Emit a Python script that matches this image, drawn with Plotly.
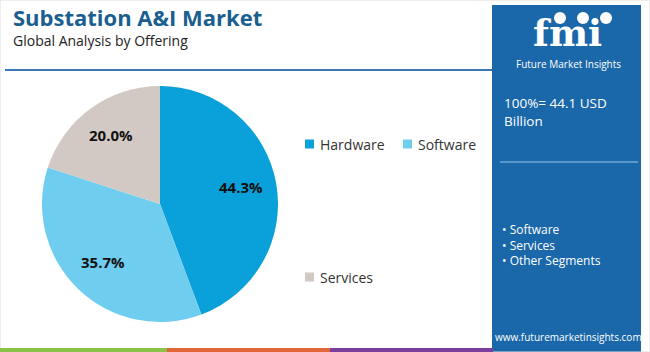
import math
import plotly.graph_objects as go

W, H = 650, 352
categories = ["Hardware", "Software", "Services"]
shares = [44.3, 35.7, 20.0]
colors = ["#0aa0d9", "#6fcdf0", "#d3c9c4"]
total_label = "100%= 44.1 USD<br>Billion"
segments = ["Software", "Services", "Other Segments"]

def px(x):
    return x / W

def py(y):
    return 1 - y / H

fig = go.Figure()
cx, cy, r = 160, 204, 118
fig.add_trace(go.Pie(
    labels=categories, values=shares, sort=False, direction="clockwise", rotation=0,
    marker=dict(colors=colors, line=dict(width=0)),
    textinfo="none",
    domain=dict(x=[px(cx - r), px(cx + r)], y=[py(cy + r), py(cy - r)]),
    showlegend=False, hoverinfo="label+percent",
))

shapes = []
ann = []

# slice labels placed at slice mid-angles (derived from data)
tot = sum(shares)
cum = 0.0
for v in shares:
    mid = (cum + v / 2) / tot * 2 * math.pi
    cum += v
    rr = 0.7 * r
    lx = cx + rr * math.sin(mid)
    ly = cy - rr * math.cos(mid) - 2
    ann.append(dict(text="<b>%.1f%%</b>" % v, x=px(lx), y=py(ly), xanchor="center", yanchor="middle",
                    showarrow=False, font=dict(family="Open Sans", size=15, color="#111111", weight=800)))

# border
shapes.append(dict(type="rect", xref="paper", yref="paper", x0=0, x1=1, y0=0, y1=1,
                   line=dict(color="#dddddd", width=1)))
# title underline
shapes.append(dict(type="line", xref="paper", yref="paper", x0=px(5), x1=px(492), y0=py(70), y1=py(70),
                   line=dict(color="#3a78b5", width=2)))
# right panel
shapes.append(dict(type="rect", xref="paper", yref="paper", x0=px(492), x1=px(641), y0=0, y1=py(5),
                   fillcolor="#1a67a9", line=dict(width=0), layer="below"))
shapes.append(dict(type="line", xref="paper", yref="paper", x0=px(500), x1=px(638), y0=py(162), y1=py(162),
                   line=dict(color="#6fa6d6", width=1.5)))
# footer bars
for x0, x1, c in [(0, 167, "#8bc34a"), (167, 330, "#e0663a"), (330, 493, "#7b3f9e")]:
    shapes.append(dict(type="rect", xref="paper", yref="paper", x0=px(x0), x1=px(x1), y0=0, y1=py(348),
                       fillcolor=c, line=dict(width=0)))
# logo circles
for x in [560, 583, 606]:
    shapes.append(dict(type="circle", xref="paper", yref="paper", x0=px(x - 6), x1=px(x + 6),
                       y0=py(24), y1=py(12), fillcolor="white", line=dict(width=0)))

# legend (manual)
leg = [("Hardware", colors[0], 305, 144), ("Software", colors[1], 403, 144), ("Services", colors[2], 305, 277)]
for name, c, x, y in leg:
    shapes.append(dict(type="rect", xref="paper", yref="paper", x0=px(x), x1=px(x + 9), y0=py(y + 4.5), y1=py(y - 4.5),
                       fillcolor=c, line=dict(width=0)))
    ann.append(dict(text=name, x=px(x + 13), y=py(y), xanchor="left", yanchor="middle", showarrow=False,
                    font=dict(family="Open Sans", size=14, color="#333333")))

ann.append(dict(text="<b>Substation A&I Market</b>", x=px(11), y=py(17), xanchor="left", yanchor="middle",
                showarrow=False, font=dict(family="Open Sans", size=22, color="#1a5f8f", weight=800)))
ann.append(dict(text="Global Analysis by Offering", x=px(11), y=py(41), xanchor="left", yanchor="middle",
                showarrow=False, font=dict(family="Open Sans", size=14, color="#222222")))
ann.append(dict(text="<b>fmi</b>", x=px(567), y=py(33), xanchor="center", yanchor="middle",
                showarrow=False, font=dict(family="DejaVu Serif", size=37, color="white")))
ann.append(dict(text="Future Market Insights", x=px(568), y=py(64), xanchor="center", yanchor="middle",
                showarrow=False, font=dict(family="Open Sans", size=10, color="white")))
ann.append(dict(text=total_label, x=px(502), y=py(112), xanchor="left", yanchor="middle", align="left",
                showarrow=False, font=dict(family="Open Sans", size=13.5, color="white")))
ann.append(dict(text="<br>".join("• " + s for s in segments), x=px(500), y=py(245), xanchor="left",
                yanchor="middle", align="left", showarrow=False,
                font=dict(family="Open Sans", size=12, color="white")))
ann.append(dict(text="www.futuremarketinsights.com", x=px(568), y=py(337), xanchor="center", yanchor="middle",
                showarrow=False, font=dict(family="Open Sans", size=10, color="white")))

fig.update_layout(width=W, height=H, margin=dict(l=0, r=0, t=0, b=0), paper_bgcolor="white",
                  plot_bgcolor="white", shapes=shapes, annotations=ann)
fig.write_html("out.html")
